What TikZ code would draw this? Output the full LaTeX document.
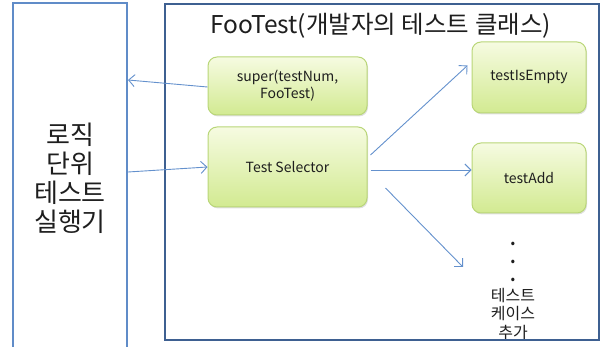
\documentclass[tikz,border=0pt]{standalone}
\usepackage{fontspec}
\setmainfont{Noto Sans CJK KR}
\usetikzlibrary{arrows.meta,shadows}
\definecolor{leftblue}{RGB}{96,140,200}
\definecolor{darkblue}{RGB}{62,96,145}
\definecolor{arrowblue}{RGB}{100,145,205}
\definecolor{boxtop}{RGB}{246,251,225}
\definecolor{boxbot}{RGB}{210,234,145}
\definecolor{boxline}{RGB}{185,214,120}
\definecolor{txt}{RGB}{30,30,30}
\tikzset{
  gbox/.style={draw=boxline, line width=1pt, rounded corners=9pt,
    top color=boxtop, bottom color=boxbot, text=txt,
    drop shadow={shadow xshift=1pt, shadow yshift=-1.5pt, opacity=0.25},
    font=\fontsize{14}{17}\selectfont, align=center, inner sep=0pt},
  conn/.style={draw=arrowblue, line width=0.9pt, -{Straight Barb[length=6pt,width=12pt]}},
}
\begin{document}
\begin{tikzpicture}[x=1pt,y=-1pt]
\useasboundingbox (0,0) rectangle (605,347);
% left box
\node[draw=leftblue, line width=2pt, minimum width=114pt, minimum height=345pt, inner sep=0pt] (runner) at (70,176) {};
\node[font=\fontsize{26}{29}\selectfont, align=center, text=txt] (runtxt) at (70,178) {로직\\단위\\테스트\\실행기};
% boxes
\node[gbox, minimum width=159pt, minimum height=58pt] (super) at (287.5,86) {super(testNum,\\FooTest)};
\node[gbox, minimum width=159pt, minimum height=80pt] (sel) at (287.5,167) {Test Selector};
\node[gbox, minimum width=114pt, minimum height=71pt] (empty) at (529,77.5) {testIsEmpty};
\node[gbox, minimum width=114pt, minimum height=70pt] (add) at (529,178) {testAdd};
% dots and text
\node[font=\fontsize{16}{18}\selectfont\bfseries, align=center, text=txt, inner sep=0pt] (dots) at (513,262) {.\\.\\.};
\node[font=\fontsize{16}{18.5}\selectfont, align=center, text=txt, inner sep=0pt, anchor=north] (more) at (513,288) {테스트\\케이스\\추가};
\coordinate (moreend) at (463,267);
% title
\node[font=\fontsize{24.5}{28}\selectfont, text=txt, inner sep=0pt] (title) at (380.5,26) {FooTest(개발자의 테스트 클래스)};
% big frame
\node[draw=darkblue, line width=2pt, minimum width=434pt, minimum height=336pt, inner sep=0pt] (frame) at (382,172) {};
% connectors
\draw[conn] (super.west |- 0,87) -- (runner.east |- 0,80);
\draw[conn] (runner.east |- 0,172) -- (sel.west |- 0,167);
\draw[conn] ([xshift=3pt]sel.east |- 0,155) -- ([xshift=-4pt,yshift=12pt]empty.west);
\draw[conn] ([xshift=3pt]sel.east |- 0,170) -- (add.west |- 0,170);
\draw[conn] ([xshift=18pt]sel.east |- 0,188) -- (moreend);
\end{tikzpicture}
\end{document}
